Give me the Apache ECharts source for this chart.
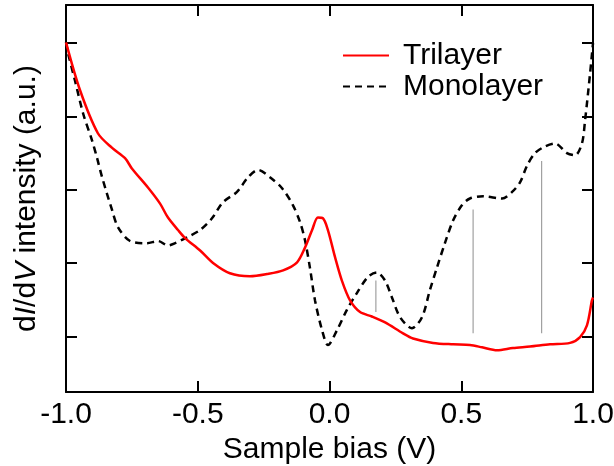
<!DOCTYPE html>
<html>
<head>
<meta charset="utf-8">
<script src="https://cdn.jsdelivr.net/npm/echarts@6/dist/echarts.min.js"></script>
<style>html,body{margin:0;padding:0;background:#fff}#c{width:614px;height:466px}</style>
</head>
<body>
<div id="c"></div>
<script>
// Sample bias (V) and dI/dV intensity (a.u.)
var trilayerX = [-1.000,-0.947,-0.879,-0.825,-0.776,-0.750,-0.689,-0.643,-0.613,-0.575,-0.548,-0.491,-0.442,-0.378,-0.302,-0.237,-0.176,-0.123,-0.093,-0.066,-0.044,-0.025,-0.006,0.021,0.047,0.078,0.116,0.161,0.211,0.279,0.317,0.393,0.469,0.533,0.579,0.636,0.696,0.761,0.837,0.913,0.951,0.977,0.996,1.000];
var trilayerY = [5.01,4.36,3.77,3.57,3.43,3.29,3.03,2.81,2.62,2.45,2.34,2.17,2.00,1.86,1.82,1.85,1.90,2.01,2.21,2.45,2.62,2.61,2.45,2.08,1.76,1.49,1.33,1.27,1.19,1.04,0.97,0.91,0.89,0.88,0.85,0.81,0.84,0.86,0.89,0.91,0.99,1.15,1.49,1.53];
var monolayerX = [-1.000,-0.992,-0.966,-0.935,-0.901,-0.882,-0.863,-0.825,-0.803,-0.757,-0.693,-0.651,-0.613,-0.586,-0.541,-0.491,-0.446,-0.404,-0.351,-0.309,-0.271,-0.226,-0.180,-0.139,-0.112,-0.093,-0.074,-0.055,-0.028,-0.006,0.028,0.066,0.104,0.146,0.180,0.211,0.237,0.268,0.313,0.351,0.381,0.408,0.438,0.469,0.503,0.533,0.583,0.655,0.693,0.723,0.750,0.780,0.818,0.856,0.901,0.932,0.958,0.970,0.989,1.000];
var monolayerY = [5.01,4.86,4.49,4.04,3.67,3.43,3.17,2.72,2.49,2.30,2.27,2.30,2.24,2.27,2.35,2.45,2.61,2.83,2.97,3.17,3.27,3.17,3.02,2.79,2.56,2.31,1.93,1.49,1.08,0.88,1.08,1.36,1.59,1.81,1.87,1.76,1.53,1.26,1.11,1.26,1.63,1.94,2.27,2.58,2.79,2.88,2.91,2.88,2.97,3.10,3.33,3.50,3.59,3.63,3.50,3.47,3.63,3.95,4.59,5.00];
// vertical marker lines: bias position, lower end, upper end
var markerX = [0.176, 0.545, 0.805];
var markerLow = [1.33, 1.04, 1.04];
var markerHigh = [1.76, 2.73, 3.39];
var xTicks = [-1.0, -0.5, 0.0, 0.5, 1.0];
var yTicks = [1, 2, 3, 4, 5];

function pairs(xs, ys) { return xs.map(function (x, i) { return [x, ys[i]]; }); }

var FONT = '"Liberation Sans", Arial, Helvetica, sans-serif';
var chart = echarts.init(document.getElementById('c'), null, {renderer: 'canvas'});

var series = [
  {name: 'Trilayer', type: 'line', data: pairs(trilayerX, trilayerY), symbol: 'none', smooth: 0.3,
   lineStyle: {color: '#ff0000', width: 2.5}, itemStyle: {color: '#ff0000'}, z: 3},
  {name: 'Monolayer', type: 'line', data: pairs(monolayerX, monolayerY), symbol: 'none', smooth: 0.3,
   lineStyle: {color: '#000000', width: 2.5, type: [7, 5]}, itemStyle: {color: '#000000'}, z: 2}
];
markerX.forEach(function (x, i) {
  series.push({name: 'marker' + i, type: 'line', data: [[x, markerLow[i]], [x, markerHigh[i]]], symbol: 'none',
    lineStyle: {color: '#a0a0a0', width: 1.2}, silent: true, z: 1});
});

var axisLineStyle = {show: true, onZero: false, lineStyle: {color: '#000', width: 2}};

chart.setOption({
  animation: false,
  backgroundColor: '#ffffff',
  grid: {left: 66, right: 21, top: 5, bottom: 74, containLabel: false, outerBoundsMode: 'none'},
  legend: {
    data: ['Trilayer', 'Monolayer'], orient: 'vertical', left: 342, top: 40, padding: 0,
    itemWidth: 46, itemHeight: 1, itemGap: 0,
    itemStyle: {opacity: 0, borderWidth: 0},
    textStyle: {fontSize: 30, fontFamily: FONT, color: '#000', lineHeight: 31, padding: [0, 0, 0, 9]}
  },
  xAxis: [
    {type: 'value', min: -1, max: 1, interval: 0.5, position: 'bottom',
     name: 'Sample bias (V)', nameLocation: 'middle', nameGap: 40,
     nameTextStyle: {fontSize: 30, fontFamily: FONT, color: '#000'},
     axisLine: axisLineStyle,
     axisTick: {show: true, inside: true, length: 11, lineStyle: {color: '#000', width: 2}},
     axisLabel: {show: true, margin: 8, fontSize: 30, fontFamily: FONT, color: '#000',
       formatter: function (v) { return v.toFixed(1); }},
     splitLine: {show: false}},
    {type: 'value', min: -1, max: 1, interval: 0.5, position: 'top',
     axisLine: axisLineStyle,
     axisTick: {show: true, inside: true, length: 11, lineStyle: {color: '#000', width: 2}},
     axisLabel: {show: false}, splitLine: {show: false}}
  ],
  yAxis: [
    {type: 'value', min: 0.24, max: 5.52, position: 'left',
     name: '{n|d}{i|I}{n|/d}{i|V}{n| intensity (a.u.)}', nameLocation: 'middle', nameGap: 24,
     nameTextStyle: {fontSize: 30, fontFamily: FONT, color: '#000',
       rich: {n: {fontSize: 30, fontFamily: FONT, color: '#000'},
              i: {fontSize: 30, fontFamily: FONT, fontStyle: 'italic', color: '#000'}}},
     axisLine: axisLineStyle,
     axisTick: {show: true, inside: true, length: 11, customValues: yTicks, lineStyle: {color: '#000', width: 2}},
     axisLabel: {show: false}, splitLine: {show: false}},
    {type: 'value', min: 0.24, max: 5.52, position: 'right',
     axisLine: axisLineStyle,
     axisTick: {show: true, inside: true, length: 11, customValues: yTicks, lineStyle: {color: '#000', width: 2}},
     axisLabel: {show: false}, splitLine: {show: false}}
  ],
  series: series
});
</script>
</body>
</html>
